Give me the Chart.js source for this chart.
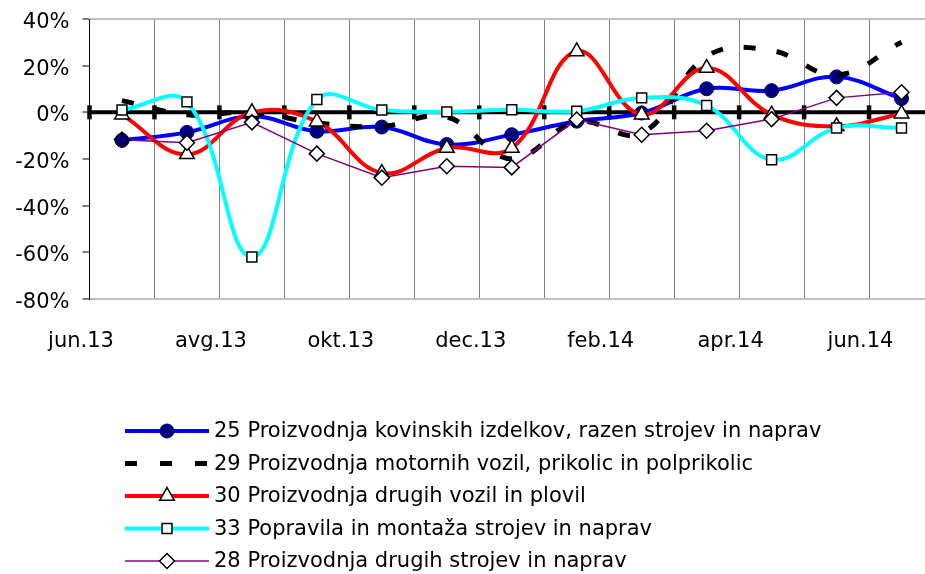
<!DOCTYPE html>
<html><head><meta charset="utf-8">
<script src="https://cdn.jsdelivr.net/npm/chart.js@4"></script>
<style>html,body{margin:0;padding:0;overflow:hidden;background:#fff}
body{width:934px;height:574px}
#c{display:block;width:934px;height:574px}</style></head>
<body><canvas id="c" width="934" height="574"></canvas>
<script>
// ---- data ----
const categories = ['jun.13','jul.13','avg.13','sep.13','okt.13','nov.13','dec.13','jan.14','feb.14','mar.14','apr.14','maj.14','jun.14'];
const tickLabels = ['jun.13','','avg.13','','okt.13','','dec.13','','feb.14','','apr.14','','jun.14'];
const yTicks = [-80, -60, -40, -20, 0, 20, 40];
const name25 = '25 Proizvodnja kovinskih izdelkov, razen strojev in naprav';
const name29 = '29 Proizvodnja motornih vozil, prikolic in polprikolic';
const name30 = '30 Proizvodnja drugih vozil in plovil';
const name33 = '33 Popravila in montaža strojev in naprav';
const name28 = '28 Proizvodnja drugih strojev in naprav';
const s25 = [-12, -8.6, -1.7, -8.1, -6.3, -13.8, -9.6, -3.8, -0.3, 10.1, 9.3, 15.2, 5.9];
const s29 = [5, -1, 0, -4.5, -6, -2, -20, -4, -9, 24, 26.5, 16, 30];
const s30 = [-1, -18, 0, -4, -26, -15.3, -15.3, 26.1, -1, 19, -1, -6, -0.6];
const s33 = [1, 4.5, -62, 5.5, 1, 0.2, 1.1, 0.5, 6.2, 2.9, -20.3, -6.7, -6.7];
const s28 = [-11.7, -13, -4.3, -17.7, -28, -23.1, -23.6, -3.1, -9.6, -7.9, -2.9, 6.2, 8.6];

const FONT = 'DejaVu Sans';
const white = '#ffffff';

const datasets = [
  {label: name25, data: s25, borderColor: '#0000ff', borderWidth: 4, tension: 0.4,
   pointStyle: 'circle', pointRadius: 7, pointBackgroundColor: '#000080', pointBorderColor: '#000080', pointBorderWidth: 1, order: 5},
  {label: name29, data: s29, borderColor: '#000000', borderWidth: 5, borderDash: [12, 21], tension: 0.4,
   pointRadius: 0, order: 4},
  {label: name30, data: s30, borderColor: '#ff0000', borderWidth: 4, tension: 0.4,
   pointStyle: 'triangle', pointRadius: 8.5, pointBackgroundColor: white, pointBorderColor: '#000', pointBorderWidth: 1.5, order: 3},
  {label: name33, data: s33, borderColor: '#00ffff', borderWidth: 4, tension: 0.4,
   pointStyle: 'rect', pointRadius: 7, pointBackgroundColor: white, pointBorderColor: '#000', pointBorderWidth: 1.5, order: 2},
  {label: name28, data: s28, borderColor: '#800080', borderWidth: 1.5, tension: 0,
   pointStyle: 'rectRot', pointRadius: 7.5,
   pointBackgroundColor: (ctx) => ctx.dataIndex === 0 ? '#000080' : white,
   pointBorderColor: '#000', pointBorderWidth: 1.5, order: 1}
];
const legendOrder = [0, 1, 2, 3, 4];

const zeroLinePlugin = {
  id: 'zeroLine',
  beforeDatasetsDraw(chart) {
    const {ctx, scales: {x, y}, chartArea} = chart;
    const y0 = y.getPixelForValue(0);
    const w = x.getPixelForTick(1) - x.getPixelForTick(0);
    ctx.save();
    ctx.strokeStyle = '#000';
    ctx.lineWidth = 4;
    ctx.beginPath();
    ctx.moveTo(chartArea.left, y0);
    ctx.lineTo(chartArea.right, y0);
    ctx.stroke();
    ctx.lineWidth = 4.5;
    for (let i = 0; i <= categories.length; i++) {
      const px = x.getPixelForTick(0) - w / 2 + i * w;
      ctx.beginPath();
      ctx.moveTo(px, y0 - 7);
      ctx.lineTo(px, y0 + 7);
      ctx.stroke();
    }
    ctx.restore();
  }
};

const legendPlugin = {
  id: 'customLegend',
  afterDraw(chart) {
    const ctx = chart.ctx;
    const x0 = 125, x1 = 209, tx = 214, top = 431, gap = 32.5;
    ctx.save();
    legendOrder.forEach((di, k) => {
      const ds = chart.data.datasets[di];
      const yy = top + k * gap;
      ctx.strokeStyle = ds.borderColor;
      ctx.lineWidth = ds.borderWidth;
      ctx.setLineDash(ds.borderDash ? [12, 23] : []);
      ctx.beginPath();
      ctx.moveTo(x0, yy);
      ctx.lineTo(x1, yy);
      ctx.stroke();
      ctx.setLineDash([]);
      if (ds.pointRadius > 0) {
        ctx.fillStyle = typeof ds.pointBackgroundColor === 'function' ? white : ds.pointBackgroundColor;
        ctx.strokeStyle = ds.pointBorderColor;
        ctx.lineWidth = ds.pointBorderWidth;
        Chart.helpers.drawPoint(ctx, {pointStyle: ds.pointStyle, radius: ds.pointRadius, rotation: 0, borderWidth: ds.pointBorderWidth}, (x0 + x1) / 2, yy);
      }
      ctx.fillStyle = '#000';
      ctx.font = '21px "' + FONT + '"';
      ctx.textBaseline = 'middle';
      ctx.textAlign = 'left';
      ctx.fillText(ds.label, tx, yy + 1);
    });
    ctx.restore();
  }
};

function zeroPad(s) {
  s.paddingLeft = 0; s.paddingRight = 0; s.paddingTop = 0; s.paddingBottom = 0;
  if (s._margins) { s._margins.left = 0; s._margins.right = 0; s._margins.top = 0; s._margins.bottom = 0; }
}

new Chart(document.getElementById('c'), {
  type: 'line',
  data: {labels: categories, datasets},
  plugins: [zeroLinePlugin, legendPlugin],
  options: {
    responsive: false,
    animation: false,
    devicePixelRatio: 1,
    layout: {autoPadding: false, padding: {top: 19, left: 0, right: 0, bottom: 0}},
    plugins: {legend: {display: false}, tooltip: {enabled: false}},
    scales: {
      x: {
        type: 'category',
        offset: true,
        grid: {offset: true, color: '#808080', lineWidth: 1, drawTicks: false},
        border: {display: false},
        ticks: {
          autoSkip: false, maxRotation: 0, minRotation: 0,
          labelOffset: -41, padding: 30,
          color: '#000', font: {family: FONT, size: 21},
          callback: (v, i) => tickLabels[i]
        },
        afterFit(s) { s.height = 275; zeroPad(s); }
      },
      y: {
        min: -80, max: 40,
        afterBuildTicks(s) { s.ticks = yTicks.map(v => ({value: v})); },
        grid: {
          color: (c) => (c.tick && (c.tick.value === 40 || c.tick.value === -80)) ? '#c0c0c0' : 'rgba(0,0,0,0)',
          lineWidth: 2,
          tickColor: '#000', tickLength: 7, tickWidth: 1
        },
        border: {display: true, color: '#000', width: 1},
        ticks: {
          padding: 13, labelOffset: 3.5, color: '#000', font: {family: FONT, size: 21},
          callback: (v) => v + '%'
        },
        afterFit(s) { s.width = 89.5; zeroPad(s); }
      }
    }
  }
});
</script>
</body></html>
